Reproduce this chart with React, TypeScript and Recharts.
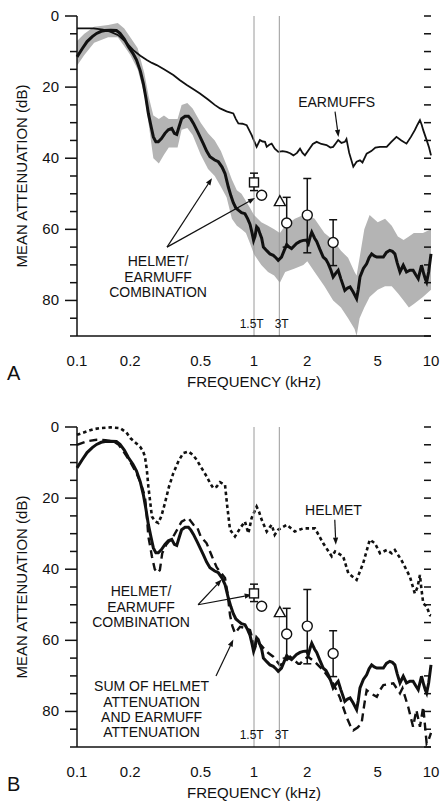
import React from "react";
import {
  Area,
  ComposedChart,
  ErrorBar,
  Line,
  ReferenceDot,
  ReferenceLine,
  Scatter,
  XAxis,
  YAxis,
} from "recharts";

// axis ticks
const FREQ_TICKS = [0.1, 0.2, 0.3, 0.4, 0.5, 0.6, 0.7, 0.8, 0.9, 1, 2, 3, 4, 5, 6, 7, 8, 9, 10];
const FREQ_LABELS = [0.1, 0.2, 0.5, 1, 2, 5, 10];
const DECADES = [0.1, 1, 10];
const DB_TICKS = [0, 5, 10, 15, 20, 25, 30, 35, 40, 45, 50, 55, 60, 65, 70, 75, 80, 85, 90];
const DB_LABELS = [0, 20, 40, 60, 80];

// field-strength markers (kHz)
const MARKER_FREQS = [1, 1.39];
const MARKER_LABELS = ["1.5T", "3T"];
const MARKER_LABEL_FREQS = [0.97, 1.434];

// [kHz, dB]
const COMBINATION = [
  [0.1, 11.5], [0.107, 9.2], [0.114, 7.2], [0.122, 5.8], [0.129, 4.9], [0.137, 4.3],
  [0.144, 4.1], [0.155, 4.0], [0.167, 4.1], [0.175, 4.9], [0.185, 6.5], [0.195, 8.6],
  [0.207, 10.5], [0.217, 12.4], [0.228, 15.5], [0.237, 19], [0.245, 23], [0.253, 27.4],
  [0.262, 31], [0.27, 34], [0.279, 35.4], [0.288, 35.4], [0.3, 34.5], [0.314, 33],
  [0.328, 32], [0.343, 31.6], [0.355, 33], [0.366, 33.3], [0.378, 31], [0.39, 28.9],
  [0.408, 28.2], [0.426, 28.2], [0.44, 29], [0.455, 30.2], [0.48, 32.5], [0.517, 35.9],
  [0.54, 38], [0.564, 39.6], [0.6, 40.5], [0.629, 41], [0.66, 42.5], [0.686, 44.3],
  [0.716, 48.1], [0.74, 50.5], [0.764, 52.5], [0.79, 54], [0.816, 54.6], [0.85, 55.3],
  [0.889, 55.6], [0.92, 57], [0.95, 58.6], [0.975, 61], [0.995, 63.1], [1.013, 62],
  [1.035, 59.3], [1.057, 59.8], [1.08, 61.2], [1.105, 62.5], [1.13, 65], [1.18, 66],
  [1.23, 66.9], [1.285, 67.3], [1.33, 68], [1.37, 68.7], [1.43, 67.8], [1.48, 66],
  [1.53, 64.3], [1.58, 65], [1.63, 65.4], [1.74, 64], [1.82, 63.4], [1.9, 63.1],
  [1.98, 63], [2.03, 64], [2.08, 62], [2.12, 60.8], [2.2, 62.5], [2.26, 63.4],
  [2.35, 65.5], [2.46, 67.8], [2.55, 68.5], [2.63, 69.7], [2.72, 71.5], [2.8, 73.4],
  [2.9, 72.3], [2.99, 71.5], [3.1, 74], [3.26, 77.2], [3.38, 76.5], [3.49, 76.2],
  [3.64, 77.7], [3.8, 79.5], [3.88, 77], [3.97, 73.4], [4.15, 71], [4.33, 69.7],
  [4.47, 68], [4.62, 66.9], [4.78, 67.5], [4.94, 67.8], [5.15, 67.8], [5.38, 67.8],
  [5.6, 66.5], [5.85, 65.9], [6.05, 66.2], [6.25, 66.9], [6.45, 69.5], [6.68, 72],
  [6.97, 70.1], [7.27, 72], [7.6, 71.5], [7.92, 71.5], [8.2, 72.8], [8.47, 73.9],
  [8.65, 72], [8.84, 70.1], [9.1, 72.5], [9.3, 74], [9.45, 74.8], [9.7, 72], [10, 66.9],
];

// [kHz, upper dB, lower dB] spread of the combination
const COMBINATION_RANGE = [
  [0.1, 7, 14], [0.11, 5, 11], [0.125, 3, 7.5], [0.15, 2.5, 6], [0.17, 2, 6],
  [0.185, 3.5, 8.5], [0.2, 6, 11], [0.22, 9, 15], [0.24, 16, 22], [0.255, 23, 31],
  [0.27, 28, 40], [0.29, 29, 41.5], [0.31, 28, 39], [0.33, 29, 37], [0.35, 29, 37],
  [0.37, 29, 37], [0.39, 25, 32], [0.42, 24.5, 31.5], [0.45, 26, 33.5], [0.5, 30, 39],
  [0.55, 33, 43], [0.6, 35, 45], [0.65, 38, 48], [0.7, 42, 51], [0.75, 46, 57],
  [0.8, 49, 59], [0.85, 50, 60], [0.9, 52, 61], [0.95, 54, 64], [1, 56, 67],
  [1.1, 58, 70], [1.2, 59, 72], [1.3, 60, 73], [1.4, 61, 75], [1.5, 59, 72],
  [1.7, 57, 71], [1.9, 56, 70], [2, 56, 69], [2.2, 57, 72], [2.5, 61, 76],
  [2.8, 63, 80], [3.1, 66, 82], [3.4, 68, 85], [3.7, 72, 88], [3.8, 73, 90],
  [3.95, 68, 85], [4.2, 60, 82], [4.5, 56, 79], [5, 58, 77], [5.5, 57, 76],
  [6, 59, 76], [6.5, 62, 78], [7, 63, 80], [7.5, 62, 82], [8, 61, 81], [9, 61, 79],
  [10, 60, 77],
];

const EARMUFFS = [
  [0.1, 3.5], [0.124, 3.5], [0.14, 3.8], [0.154, 4.4], [0.171, 5.4], [0.19, 7.5],
  [0.208, 9.6], [0.228, 11.2], [0.248, 12.4], [0.265, 13.2], [0.282, 13.8], [0.31, 15],
  [0.35, 16.6], [0.38, 18], [0.417, 19.4], [0.455, 20.6], [0.495, 21.8], [0.55, 23.5],
  [0.6, 25], [0.643, 26], [0.7, 26.8], [0.764, 27.4], [0.79, 29], [0.816, 30.2],
  [0.86, 30.3], [0.909, 30.7], [0.97, 33.5], [1.035, 36.8], [1.08, 34.9], [1.12, 35.3],
  [1.154, 35.4], [1.18, 36.8], [1.22, 36.2], [1.258, 35.9], [1.31, 37.3], [1.372, 38.2],
  [1.45, 38], [1.53, 38.2], [1.6, 38.6], [1.67, 39.2], [1.75, 38.5], [1.82, 37.3],
  [1.88, 38.5], [1.94, 39.2], [2.05, 37.5], [2.15, 36], [2.26, 35.4], [2.4, 36],
  [2.57, 36.3], [2.7, 37], [2.8, 36.8], [2.9, 35.8], [2.99, 34.9], [3.12, 35.7],
  [3.26, 35.4], [3.33, 34.6], [3.45, 38.5], [3.64, 42.4], [3.8, 41], [3.97, 40.6],
  [4.1, 41.2], [4.33, 38.7], [4.6, 38], [4.85, 37], [5.15, 36.8], [5.62, 36.8],
  [5.95, 35.5], [6.38, 34], [6.8, 35], [7.27, 35.9], [7.7, 34], [8.1, 32.1],
  [8.4, 30.5], [8.66, 29.3], [8.85, 30.5], [9.04, 32.1], [9.45, 34.9], [9.75, 37],
  [10, 39.2],
];

const HELMET = [
  [0.1, 2.2], [0.114, 1.2], [0.125, 0.6], [0.135, 0.3], [0.155, 0.1], [0.175, 0.3],
  [0.19, 1.5], [0.2, 3.1], [0.215, 4.5], [0.227, 5.5], [0.236, 6.8], [0.242, 8.3],
  [0.248, 12], [0.253, 16.7], [0.259, 21], [0.265, 25.2], [0.276, 26.5], [0.288, 27],
  [0.3, 25], [0.314, 21.4], [0.33, 17], [0.35, 13], [0.375, 9.5], [0.399, 7.3],
  [0.426, 6.9], [0.45, 7.8], [0.474, 9.2], [0.505, 11.5], [0.54, 13.9], [0.565, 15.8],
  [0.589, 17.2], [0.615, 16.8], [0.643, 15.5], [0.686, 16.3], [0.705, 22], [0.732, 28.9],
  [0.781, 30.8], [0.834, 28.5], [0.889, 26.6], [0.929, 29.9], [0.97, 25.6], [1.035, 22.4],
  [1.07, 24], [1.105, 26.1], [1.18, 29.4], [1.258, 27.5], [1.31, 30.3], [1.37, 28.9],
  [1.53, 27.5], [1.7, 29.4], [1.9, 28.5], [2.21, 28.5], [2.46, 32.7], [2.75, 36.4],
  [2.87, 35], [3.19, 36.4], [3.41, 41.1], [3.8, 43], [4.14, 38.3], [4.51, 31.7],
  [4.82, 32.7], [5.15, 35.5], [5.62, 34.6], [6, 35.5], [6.25, 34.6], [6.8, 37.4],
  [7.6, 42.1], [8.1, 46.8], [8.4, 45], [8.66, 41.6], [8.84, 45.8], [9.04, 49.6],
  [9.45, 50.5], [9.86, 52.9], [10, 53],
];

const HELMET_PLUS_EARMUFF = [
  [0.1, 5], [0.114, 4], [0.129, 3.6], [0.145, 3.7], [0.16, 4], [0.172, 5],
  [0.183, 6.9], [0.2, 9.8], [0.217, 13], [0.23, 16], [0.242, 19.6], [0.248, 25],
  [0.253, 30.8], [0.26, 34], [0.265, 36.4], [0.275, 40], [0.285, 41], [0.294, 40.2],
  [0.303, 35.5], [0.32, 33], [0.35, 30.8], [0.39, 26.6], [0.408, 26.1], [0.426, 25.6],
  [0.455, 27.5], [0.474, 27.8], [0.5, 30.8], [0.54, 32.7], [0.58, 36.5], [0.616, 39.5],
  [0.65, 41], [0.686, 42.5], [0.71, 47], [0.732, 52.9], [0.755, 56], [0.781, 58],
  [0.834, 56.2], [0.89, 56.5], [0.95, 57.1], [0.985, 60], [1.013, 61.8], [1.05, 60.5],
  [1.1, 61.5], [1.2, 63.5], [1.285, 64.6], [1.4, 67], [1.5, 66], [1.6, 64.6],
  [1.78, 66.6], [1.82, 66.6], [1.9, 65.5], [2.02, 64.6], [2.2, 66], [2.46, 68.4],
  [2.8, 72.1], [3.05, 76], [3.33, 81.5], [3.5, 84], [3.64, 85.3], [3.85, 84.5],
  [4.05, 83.4], [4.2, 78], [4.33, 74], [4.6, 75], [4.94, 75.9], [5.15, 74],
  [5.38, 72.6], [6.13, 72.1], [6.68, 74.9], [6.9, 73.5], [7.43, 78.7], [7.92, 84.3],
  [8.27, 79.6], [8.66, 84.3], [9.04, 78.7], [9.45, 89], [9.7, 88], [10, 86],
];

// measured points: [kHz, dB, minus, plus]
const SQUARE_POINTS = [[1.0, 46.8, 2.6, 2.3]];
const TRIANGLE_POINTS = [[1.4, 52.2, 0, 0]];
const CIRCLE_POINTS = [
  [1.105, 50.4, 0, 0],
  [1.53, 58.2, 7.2, 6.8],
  [2.0, 56.0, 10.3, 10.6],
  [2.8, 63.7, 6.4, 6.5],
];

const INK = "#111";
const FONT = '"Liberation Sans", Arial, Helvetica, sans-serif';

const MINOR_FREQ_TICKS = FREQ_TICKS.filter((f) => !DECADES.includes(f));

const toPoints = (rows: number[][]) => rows.map(([f, db]) => ({ f, db }));
const toRange = (rows: number[][]) => rows.map(([f, hi, lo]) => ({ f, band: [hi, lo] }));
const toMarks = (rows: number[][]) =>
  rows.map(([f, db, lo, hi]) => ({ f, db, err: [lo, hi] }));

function BottomLabel(props: any) {
  const v = props.payload?.value;
  if (!FREQ_LABELS.includes(v)) return <g />;
  return (
    <text x={props.x} y={props.y + 30} textAnchor="middle" fontSize={15} fill={INK}>
      {v}
    </text>
  );
}

function LeftLabel(props: any) {
  const v = props.payload?.value;
  if (!DB_LABELS.includes(v)) return <g />;
  return (
    <text x={props.x - 18} y={props.y + 5} textAnchor="end" fontSize={15} fill={INK}>
      {v}
    </text>
  );
}

// attenuation marks all point left
const dbTick = (db: number) => (p: any) => {
  const l = Math.min(Number(p.x1), Number(p.x2));
  const r = Math.max(Number(p.x1), Number(p.x2));
  const y = Number(p.y1);
  const len = DB_LABELS.includes(db) ? 12 : 7;
  return (
    <g>
      <rect x={l - len} y={y - 0.75} width={len} height={1.5} fill={INK} />
      <rect x={r - 7} y={y - 0.75} width={7} height={1.5} fill={INK} />
    </g>
  );
};

const note = (lines: string[], lh = 15.5) => (p: any) => (
  <text x={p.cx} y={p.cy} textAnchor="middle" fontSize={14} fill={INK}>
    {lines.map((l, i) => (
      <tspan key={i} x={p.cx} dy={i === 0 ? 5 - ((lines.length - 1) * lh) / 2 : lh}>
        {l}
      </tspan>
    ))}
  </text>
);

const arrow = (p: any) => {
  const { x1, y1, x2, y2 } = p;
  const a = Math.atan2(y2 - y1, x2 - x1);
  const len = 7;
  const w = 2.6;
  const bx = x2 - len * Math.cos(a);
  const by = y2 - len * Math.sin(a);
  const pts = `${x2},${y2} ${bx - w * Math.sin(a)},${by + w * Math.cos(a)} ${bx + w * Math.sin(a)},${by - w * Math.cos(a)}`;
  return (
    <g>
      <line x1={x1} y1={y1} x2={bx} y2={by} stroke={INK} strokeWidth={1.2} />
      <polygon points={pts} fill={INK} />
    </g>
  );
};

const squareShape = (p: any) => (
  <rect x={p.cx - 4.5} y={p.cy - 4.5} width={9} height={9} fill="#fff" stroke={INK} strokeWidth={1.4} />
);
const circleShape = (p: any) => <circle cx={p.cx} cy={p.cy} r={5} fill="#fff" stroke={INK} strokeWidth={1.4} />;
const triangleShape = (p: any) => (
  <polygon
    points={`${p.cx},${p.cy - 6} ${p.cx - 5.5},${p.cy + 4} ${p.cx + 5.5},${p.cy + 4}`}
    fill="#fff"
    stroke={INK}
    strokeWidth={1.4}
  />
);

const tickLineStyle = { stroke: INK, strokeWidth: 1.5 };

// frequency tick marks come from the axes' own tick lines:
// minor marks point up on both edges, decade marks point out of the frame
function freqAxes() {
  return [
    <XAxis
      key="bMinor"
      xAxisId="bMinor"
      orientation="bottom"
      mirror
      type="number"
      scale="log"
      domain={[0.1, 10]}
      ticks={MINOR_FREQ_TICKS}
      interval={0}
      tick={false}
      tickLine={tickLineStyle}
      tickSize={6}
      axisLine={false}
      height={0}
    />,
    <XAxis
      key="tMinor"
      xAxisId="tMinor"
      orientation="top"
      type="number"
      scale="log"
      domain={[0.1, 10]}
      ticks={MINOR_FREQ_TICKS}
      interval={0}
      tick={false}
      tickLine={tickLineStyle}
      tickSize={6}
      axisLine={false}
      height={0}
    />,
    <XAxis
      key="tDecade"
      xAxisId="tDecade"
      orientation="top"
      type="number"
      scale="log"
      domain={[0.1, 10]}
      ticks={DECADES}
      interval={0}
      tick={false}
      tickLine={tickLineStyle}
      tickSize={11}
      axisLine={{ stroke: INK, strokeWidth: 1.5 }}
      height={0}
    />,
    <XAxis
      key="bDecade"
      xAxisId="bDecade"
      orientation="bottom"
      type="number"
      scale="log"
      domain={[0.1, 10]}
      ticks={DECADES}
      interval={0}
      tick={false}
      tickLine={tickLineStyle}
      tickSize={10}
      axisLine={false}
      height={0}
    />,
  ];
}

function commonMarks() {
  return [
    ...DB_TICKS.map((db) => (
      <ReferenceLine key={`dy${db}`} y={db} ifOverflow="visible" shape={dbTick(db)} />
    )),
    ...MARKER_FREQS.map((f, i) => (
      <ReferenceLine key={`m${i}`} x={f} stroke="#9a9a9a" strokeWidth={1} />
    )),
    ...MARKER_LABELS.map((t, i) => (
      <ReferenceDot
        key={`ml${i}`}
        x={MARKER_LABEL_FREQS[i]}
        y={86.6}
        r={0}
        shape={(p: any) => (
          <text x={p.cx} y={p.cy + 4} textAnchor="middle" fontSize={12} fill={INK}>
            {t}
          </text>
        )}
      />
    )),
    <Line
      key="combo"
      data={toPoints(COMBINATION)}
      dataKey="db"
      type="linear"
      stroke={INK}
      strokeWidth={3}
      dot={false}
      isAnimationActive={false}
    />,
    <Scatter key="sq" data={toMarks(SQUARE_POINTS)} dataKey="db" shape={squareShape} isAnimationActive={false}>
      <ErrorBar dataKey="err" direction="y" width={4} stroke={INK} strokeWidth={1.5} />
    </Scatter>,
    <Scatter key="tri" data={toMarks(TRIANGLE_POINTS)} dataKey="db" shape={triangleShape} isAnimationActive={false} />,
    <Scatter key="ci" data={toMarks(CIRCLE_POINTS)} dataKey="db" shape={circleShape} isAnimationActive={false}>
      <ErrorBar dataKey="err" direction="y" width={4} stroke={INK} strokeWidth={1.5} />
    </Scatter>,
  ];
}

function Panel({ top, letter, before, after }: any) {
  return (
    <div style={{ position: "absolute", left: 0, top, width: 440, height: 400 }}>
      <ComposedChart width={440} height={400} margin={{ top: 16, right: 9, bottom: 14, left: 0 }}>
        {freqAxes()}
        <XAxis
          dataKey="f"
          type="number"
          scale="log"
          domain={[0.1, 10]}
          ticks={FREQ_TICKS}
          interval={0}
          tick={<BottomLabel />}
          tickLine={false}
          tickSize={0}
          tickMargin={0}
          height={50}
          axisLine={{ stroke: INK, strokeWidth: 1.5 }}
        />
        <YAxis
          type="number"
          domain={[0, 90]}
          reversed
          ticks={DB_TICKS}
          interval={0}
          tick={<LeftLabel />}
          tickLine={false}
          tickSize={0}
          tickMargin={0}
          width={77}
          axisLine={{ stroke: INK, strokeWidth: 1.5 }}
        />
        <YAxis
          yAxisId="right"
          orientation="right"
          type="number"
          domain={[0, 90]}
          reversed
          tick={false}
          tickLine={false}
          width={0}
          axisLine={{ stroke: INK, strokeWidth: 1.5 }}
        />
        {before}
        {commonMarks()}
        {after}
      </ComposedChart>
      <div
        style={{
          position: "absolute",
          left: 21,
          top: 176,
          transform: "translate(-50%, -50%) rotate(-90deg)",
          whiteSpace: "nowrap",
          fontSize: 15,
        }}
      >
        MEAN ATTENUATION (dB)
      </div>
      <div
        style={{
          position: "absolute",
          left: 254,
          top: 381,
          transform: "translate(-50%, -50%)",
          whiteSpace: "nowrap",
          fontSize: 15,
        }}
      >
        FREQUENCY (kHz)
      </div>
      <div style={{ position: "absolute", left: 7, top: 362, fontSize: 20, lineHeight: "22px" }}>{letter}</div>
    </div>
  );
}

export default function App() {
  const panelA = {
    before: [
      <Area
        key="band"
        data={toRange(COMBINATION_RANGE)}
        dataKey="band"
        type="linear"
        stroke="none"
        fill="#b4b4b4"
        fillOpacity={1}
        isAnimationActive={false}
      />,
      <Line
        key="ear"
        data={toPoints(EARMUFFS)}
        dataKey="db"
        type="linear"
        stroke={INK}
        strokeWidth={1.8}
        dot={false}
        isAnimationActive={false}
      />,
    ],
    after: [
      <ReferenceDot key="t1" x={2.93} y={24.1} r={0} shape={note(["EARMUFFS"])} />,
      <ReferenceLine key="a1" segment={[{ x: 2.87, y: 26.9 }, { x: 3.0, y: 34 }]} shape={arrow} />,
      <ReferenceDot key="t2" x={0.287} y={73.4} r={0} shape={note(["HELMET/", "EARMUFF", "COMBINATION"])} />,
      <ReferenceLine key="a2" segment={[{ x: 0.3225, y: 65 }, { x: 0.579, y: 45.6 }]} shape={arrow} />,
      <ReferenceLine key="a3" segment={[{ x: 0.3225, y: 65 }, { x: 1.013, y: 51.2 }]} shape={arrow} />,
    ],
  };

  const panelB = {
    before: [
      <Line
        key="helmet"
        data={toPoints(HELMET)}
        dataKey="db"
        type="linear"
        stroke={INK}
        strokeWidth={2.6}
        strokeDasharray="3.5 3"
        dot={false}
        isAnimationActive={false}
      />,
      <Line
        key="sum"
        data={toPoints(HELMET_PLUS_EARMUFF)}
        dataKey="db"
        type="linear"
        stroke={INK}
        strokeWidth={2.4}
        strokeDasharray="8 5"
        dot={false}
        isAnimationActive={false}
      />,
    ],
    after: [
      <ReferenceDot key="t1" x={2.81} y={23.3} r={0} shape={note(["HELMET"])} />,
      <ReferenceLine key="a1" segment={[{ x: 2.86, y: 26.1 }, { x: 2.9, y: 33.1 }]} shape={arrow} />,
      <ReferenceDot key="t2" x={0.23} y={50.5} r={0} shape={note(["HELMET/", "EARMUFF", "COMBINATION"])} />,
      <ReferenceLine key="a2" segment={[{ x: 0.483, y: 50 }, { x: 0.657, y: 42.9 }]} shape={arrow} />,
      <ReferenceLine key="a3" segment={[{ x: 0.483, y: 50 }, { x: 0.97, y: 47.2 }]} shape={arrow} />,
      <ReferenceDot
        key="t3"
        x={0.264}
        y={79.4}
        r={0}
        shape={note(["SUM OF HELMET", "ATTENUATION", "AND EARMUFF", "ATTENUATION"], 15.3)}
      />,
      <ReferenceLine key="a4" segment={[{ x: 0.61, y: 70 }, { x: 0.764, y: 59.8 }]} shape={arrow} />,
    ],
  };

  return (
    <div
      style={{
        position: "absolute",
        left: 0,
        top: 0,
        width: 440,
        height: 806,
        background: "#fff",
        fontFamily: FONT,
        color: INK,
      }}
    >
      <Panel top={0} letter="A" {...panelA} />
      <Panel top={411} letter="B" {...panelB} />
    </div>
  );
}
